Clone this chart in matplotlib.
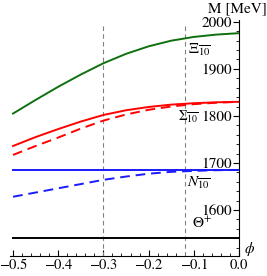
import numpy as np
import matplotlib
matplotlib.use("Agg")
import matplotlib.pyplot as plt
from matplotlib.ticker import MultipleLocator

# datos
phi = [-0.5, -0.45, -0.4, -0.35, -0.3, -0.25, -0.2, -0.15, -0.1, -0.05, 0.0]
xi_10 = [1805, 1834, 1862, 1888, 1912, 1932, 1948, 1960, 1968, 1973, 1976]
sigma_sol = [1736, 1755, 1772, 1788, 1802, 1812, 1819, 1824, 1827, 1829, 1830]
sigma_dash = [1717, 1736, 1754, 1773, 1790, 1803, 1813, 1820, 1825, 1828, 1830]
n_sol = [1685] * 11
n_dash = [1628, 1637, 1646, 1655, 1664, 1671, 1677, 1681, 1683, 1684.5, 1685]
theta = [1540] * 11
vlines_x = [-0.3, -0.12]

plt.rcParams['font.family'] = 'STIXGeneral'
plt.rcParams['mathtext.fontset'] = 'stix'

fig = plt.figure(figsize=(2.67, 2.76), dpi=100)
ax = fig.add_axes([0.037, 0.0725, 0.858, 0.855])

for xv in vlines_x:
    ax.plot([xv, xv], [1502, 1993], color='gray', lw=0.8, ls=(0, (4, 3)))

ax.plot(phi, xi_10, color='#0e700e', lw=1.4)
ax.plot(phi, sigma_sol, color='red', lw=1.4)
ax.plot(phi, sigma_dash, color='red', lw=1.4, ls=(0, (5, 3)))
ax.plot(phi, n_sol, color='#1a1aff', lw=1.4)
ax.plot(phi, n_dash, color='#1a1aff', lw=1.4, ls=(0, (5, 3)))
ax.plot(phi, theta, color='black', lw=1.4)

fs = 11
ax.text(-0.113, 1940, r'$\Xi_{\overline{10}}$', fontsize=fs, va='center', ha='left')
ax.text(-0.134, 1797, r'$\Sigma_{\overline{10}}$', fontsize=10, va='center', ha='left')
ax.text(-0.114, 1658, r'$N_{\overline{10}}$', fontsize=fs, va='center', ha='left')
ax.text(-0.103, 1572, r'$\Theta^{+}$', fontsize=fs, va='center', ha='left')

ax.set_xlim(-0.507, 0)
ax.set_ylim(1502, 2004)
ax.spines['left'].set_position(('data', 0))
ax.spines['right'].set_visible(False)
ax.spines['top'].set_visible(False)
ax.xaxis.set_minor_locator(MultipleLocator(0.02))
ax.yaxis.set_minor_locator(MultipleLocator(20))
ax.set_yticks([1600, 1700, 1800, 1900, 2000])
ax.set_xticks([-0.5, -0.4, -0.3, -0.2, -0.1, 0.0])
ax.set_xticklabels(['\u22120.5', '\u22120.4', '\u22120.3', '\u22120.2', '\u22120.1', '0.0'])
ax.tick_params(axis='x', which='major', direction='in', length=4, labelsize=10.5, pad=2)
ax.tick_params(axis='x', which='minor', direction='in', length=2)
ax.tick_params(axis='y', which='major', direction='out', length=4, labelsize=fs, pad=1)
ax.tick_params(axis='y', which='minor', direction='out', length=2)

fig.text(0.998, 0.97, 'M [MeV]', ha='right', va='center', fontsize=fs)
ax.text(1.045, 0.03, r'$\phi$', transform=ax.transAxes, fontsize=fs, ha='center', va='center')

fig.savefig('out.png', dpi=100)
